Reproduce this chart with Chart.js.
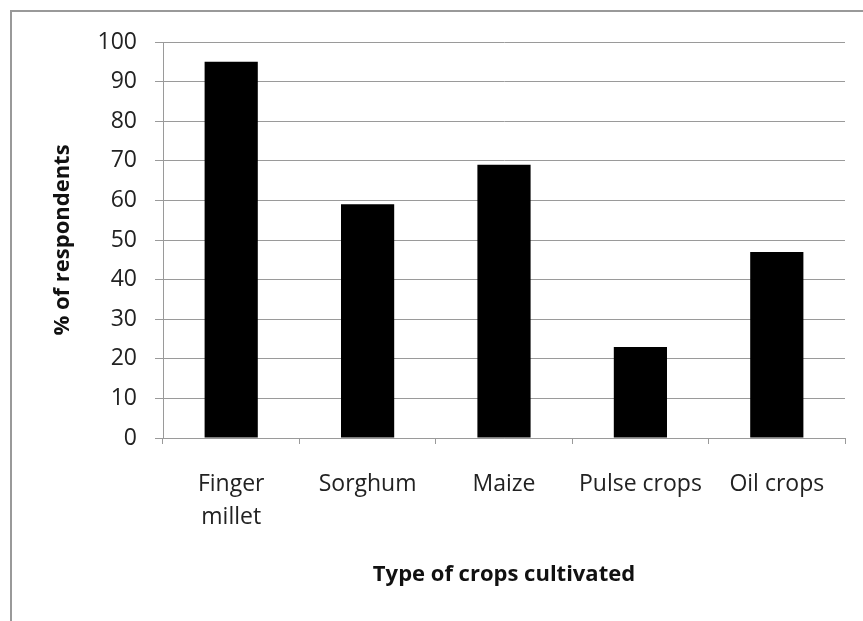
<!DOCTYPE html>
<html>
<head>
<meta charset="utf-8">
<script src="https://cdn.jsdelivr.net/npm/chart.js@4/dist/chart.umd.min.js"></script>
<style>
  body { margin: 0; background: #fff; }
  #frame { position: absolute; left: 10px; top: 10px; width: 853px; height: 611px;
           border-left: 2px solid #999; border-top: 2px solid #999; box-sizing: border-box; }
  #wrap { position: absolute; left: 0; top: 0; width: 863px; height: 621px; }
</style>
</head>
<body>
<div id="frame"></div>
<div id="wrap"><canvas id="crops" width="863" height="621"></canvas></div>
<script>
var crops = [['Finger', 'millet'], 'Sorghum', 'Maize', 'Pulse crops', 'Oil crops'];
var respondents = [95, 59, 69, 23, 47];
var yTicks = [0, 10, 20, 30, 40, 50, 60, 70, 80, 90, 100];

var fontFamily = "'Open Sans', Lato, sans-serif";
var gridColor = '#9a9a9a';

new Chart(document.getElementById('crops'), {
    type: 'bar',
    data: {
        labels: crops,
        datasets: [{
            data: respondents,
            backgroundColor: '#000',
            borderWidth: 0,
            categoryPercentage: 1,
            barPercentage: 0.39
        }]
    },
    options: {
        responsive: false,
        animation: false,
        layout: {
            padding: { left: 45, top: 42, right: 18, bottom: 20 }
        },
        plugins: {
            legend: { display: false },
            tooltip: { enabled: false }
        },
        scales: {
            x: {
                afterFit: function(scale) { scale.height = 163; },
                grid: {
                    drawOnChartArea: false,
                    drawTicks: true,
                    tickLength: 6,
                    color: gridColor
                },
                border: { color: gridColor },
                ticks: {
                    padding: 24,
                    maxRotation: 0,
                    color: '#222',
                    font: { family: fontFamily, size: 23, lineHeight: 1.43 }
                },
                title: {
                    display: true,
                    text: 'Type of crops cultivated',
                    color: '#111',
                    padding: { bottom: 13 },
                    font: { family: fontFamily, size: 22, weight: 'bold', lineHeight: 1.2 }
                }
            },
            y: {
                min: 0,
                max: 100,
                afterFit: function(scale) { scale.width = 118; },
                afterBuildTicks: function(scale) {
                    scale.ticks = yTicks.map(function(v) { return { value: v }; });
                },
                grid: {
                    color: gridColor,
                    tickLength: 8
                },
                border: { color: gridColor },
                ticks: {
                    padding: 18,
                    color: '#222',
                    font: { family: fontFamily, size: 23 }
                },
                title: {
                    display: true,
                    text: '% of respondents',
                    color: '#111',
                    padding: { top: 5 },
                    font: { family: fontFamily, size: 22, weight: 'bold', lineHeight: 1.2 }
                }
            }
        }
    }
});
</script>
</body>
</html>
